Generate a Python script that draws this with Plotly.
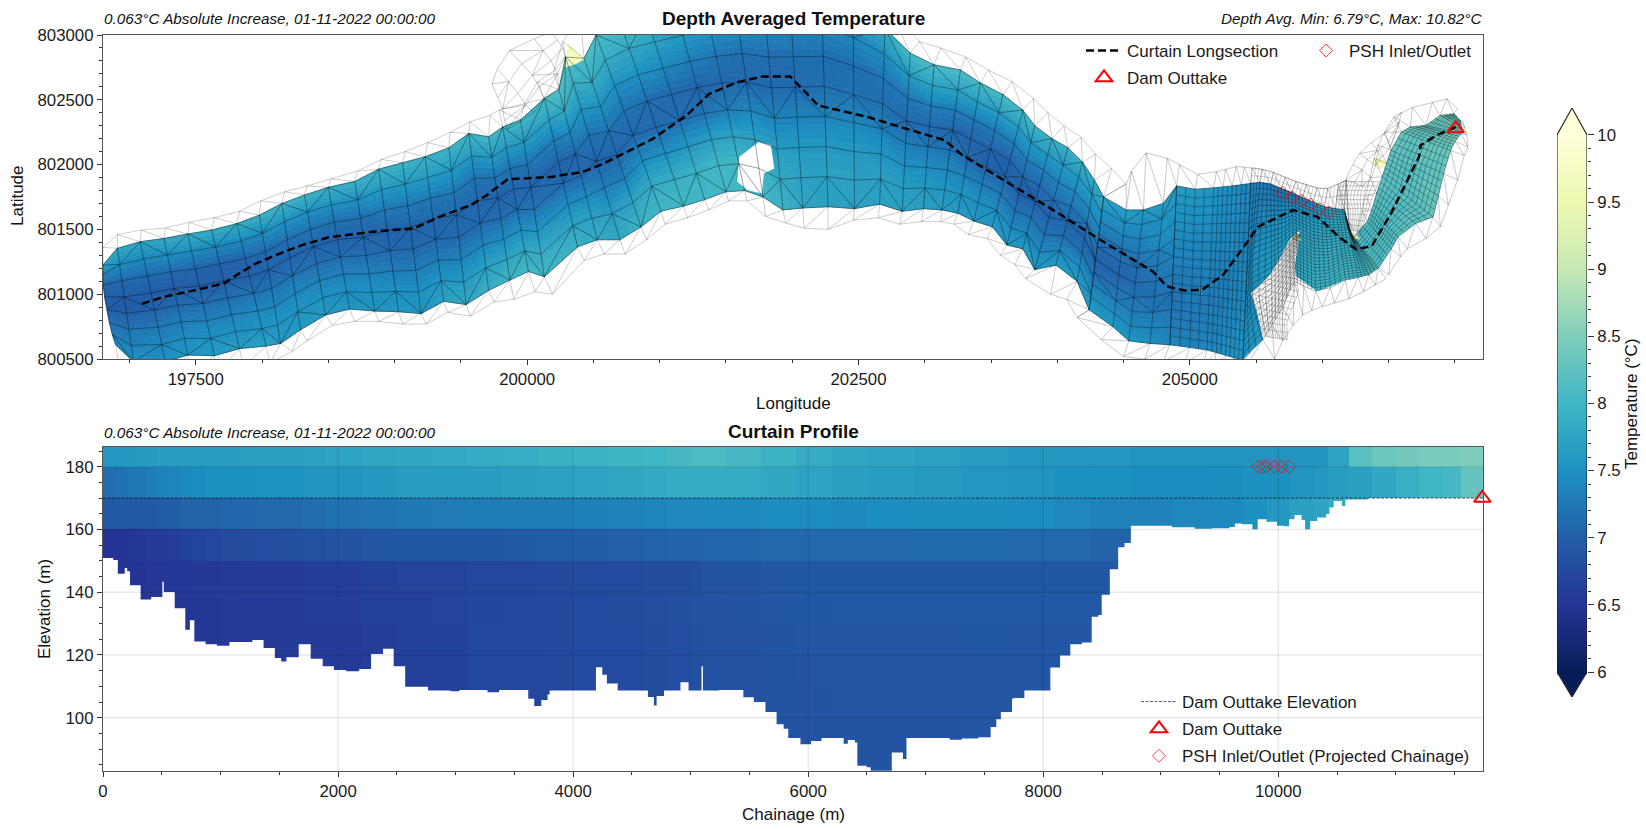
import plotly.graph_objects as go

# ---------- colour scale (YlGnBu reversed), 6-10 degC ----------
COLOR_STOPS = ["#081d58", "#253494", "#225ea8", "#1d91c0", "#41b6c4", "#7fcdbb", "#c7e9b4", "#edf8b1", "#ffffd9"]
T_MIN, T_MAX = 6.0, 10.0

# ---------- plan view mesh: main reach (rows = cross sections, outer / bank ... bank / outer) ----------
main_lon = [
[196800,196800,196800,196802,196812,196830,196848,196870,196895,196920],
[196910,196908,196925,196942,196960,196978,196995,197012,197030,197040],
[197090,197081,197108,197135,197162,197189,197216,197243,197270,197290],
[197270,197260,197286,197311,197337,197363,197389,197414,197440,197470],
[197450,197440,197469,197497,197526,197554,197583,197611,197640,197660],
[197640,197620,197650,197680,197710,197740,197770,197800,197830,197860],
[197830,197810,197841,197873,197904,197936,197967,197999,198030,198060],
[197990,197980,198003,198026,198049,198071,198094,198117,198140,198230],
[198170,198150,198170,198190,198210,198230,198250,198270,198290,198340],
[198340,198320,198343,198366,198389,198411,198434,198457,198480,198530],
[198520,198500,198523,198546,198569,198591,198614,198637,198660,198700],
[198720,198700,198721,198743,198764,198786,198807,198829,198850,198880],
[198900,198880,198901,198923,198944,198966,198987,199009,199030,199060],
[199080,199060,199080,199100,199120,199140,199160,199180,199200,199240],
[199250,199230,199250,199270,199290,199310,199330,199350,199370,199400],
[199420,199410,199429,199447,199466,199484,199503,199521,199540,199570],
[199570,199560,199581,199603,199624,199646,199667,199689,199710,199750],
[199720,199710,199733,199756,199779,199801,199824,199847,199870,199900],
[199790,199815,199843,199871,199899,199926,199954,199982,200010,200060],
[199980,199950,199976,200001,200027,200053,200079,200104,200130,200190],
[200080,200130,200166,200201,200237,200273,200309,200344,200380,200430],
[200200,200240,200281,200323,200364,200406,200447,200489,200530,200580],
[200270,200290,200349,200407,200466,200524,200583,200641,200700,200740],
[200400,200430,200491,200553,200614,200676,200737,200799,200860,200900],
[200470,200520,200590,200660,200730,200800,200870,200940,201010,201040],
[200650,200700,200769,200837,200906,200974,201043,201111,201180,201210],
[200860,200900,200963,201026,201089,201151,201214,201277,201340,201370],
[201090,201120,201174,201229,201283,201337,201391,201446,201500,201520],
[201320,201340,201383,201426,201469,201511,201554,201597,201640,201660],
[201540,201560,201591,201623,201654,201686,201717,201749,201780,201800],
[201770,201780,201801,201823,201844,201866,201887,201909,201930,201950],
[201980,201980,201994,202009,202023,202037,202051,202066,202080,202090],
[202230,202220,202227,202234,202241,202249,202256,202263,202270,202270],
[202480,202460,202461,202463,202464,202466,202467,202469,202470,202460],
[202750,202700,202694,202689,202683,202677,202671,202666,202660,202650],
[202960,202890,202881,202873,202864,202856,202847,202839,202830,202810],
[203120,203070,203059,203047,203036,203024,203013,203001,202990,202975],
[203310,203270,203250,203230,203210,203190,203170,203150,203130,203120],
[203480,203420,203396,203371,203347,203323,203299,203274,203250,203220],
[203660,203590,203559,203527,203496,203464,203433,203401,203370,203330],
[203820,203740,203707,203674,203641,203609,203576,203543,203510,203470],
[203930,203830,203800,203770,203740,203710,203680,203650,203620,203570],
[204050,203960,203929,203897,203866,203834,203803,203771,203740,203680],
[204180,204080,204044,204009,203973,203937,203901,203866,203830,203760],
[204290,204190,204161,204133,204104,204076,204047,204019,203990,203950],
[204410,204280,204261,204243,204224,204206,204187,204169,204150,204070],
[204520,204350,204334,204319,204303,204287,204271,204256,204240,204150],
]
main_lat = [
[801362,801226,801150,801070,800980,800880,800780,800690,800610,800460],
[801460,801354,801229,801104,800979,800854,800730,800605,800480,800350],
[801495,801405,801273,801141,801009,800877,800745,800612,800480,800350],
[801510,801430,801301,801173,801044,800916,800787,800659,800530,800400],
[801555,801465,801331,801196,801062,800928,800794,800659,800525,800400],
[801590,801495,801364,801234,801103,800972,800841,800711,800580,800440],
[801640,801545,801410,801275,801140,801005,800870,800735,800600,800470],
[801720,801610,801469,801327,801186,801044,800903,800761,800620,800560],
[801790,801700,801561,801421,801282,801143,801004,800864,800725,800640],
[801835,801765,801633,801501,801368,801236,801104,800972,800840,800760],
[801890,801825,801691,801556,801422,801288,801154,801019,800885,800790],
[801950,801870,801727,801584,801441,801299,801156,801013,800870,800790],
[802040,801965,801808,801651,801494,801336,801179,801022,800865,800770],
[802100,802015,801849,801682,801516,801349,801183,801016,800850,800770],
[802170,802060,801901,801741,801582,801423,801264,801104,800945,800860],
[802250,802130,801957,801784,801611,801439,801266,801093,800920,800830],
[802330,802240,802067,801894,801721,801549,801376,801203,801030,800940],
[802380,802215,802057,801899,801742,801584,801426,801268,801110,800960],
[802423,802290,802131,801971,801812,801653,801494,801334,801175,801020],
[802470,802345,802172,801999,801826,801654,801481,801308,801135,801000],
[802640,802510,802346,802183,802019,801856,801692,801529,801365,801260],
[802720,802580,802414,802249,802083,801917,801751,801586,801420,801310],
[802950,802830,802629,802427,802226,802024,801823,801621,801420,801310],
[803150,802820,802634,802449,802263,802077,801891,801706,801520,801420],
[803150,803000,802806,802611,802417,802223,802029,801834,801640,801540],
[803250,803100,802897,802694,802491,802289,802086,801883,801680,801590],
[803300,803150,802947,802744,802541,802339,802136,801933,801730,801650],
[803350,803200,802999,802797,802596,802394,802193,801991,801790,801720],
[803400,803250,803043,802836,802629,802421,802214,802007,801800,801720],
[803420,803300,803079,802857,802636,802414,802193,801971,801750,801600],
[803420,803300,803064,802829,802593,802357,802121,801886,801650,801550],
[803420,803300,803066,802833,802599,802366,802132,801899,801665,801510],
[803420,803300,803068,802836,802604,802371,802139,801907,801675,801500],
[803350,803200,802980,802760,802540,802320,802100,801880,801660,801570],
[803180,803050,802856,802663,802469,802276,802082,801889,801695,801590],
[802950,802860,802686,802511,802337,802163,801989,801814,801640,801540],
[802900,802770,802611,802453,802294,802136,801977,801819,801660,801560],
[802830,802730,802576,802421,802267,802113,801959,801804,801650,801560],
[802730,802630,802486,802343,802199,802056,801912,801769,801625,801540],
[802640,802540,802401,802261,802122,801983,801844,801704,801565,801460],
[802510,802420,802291,802163,802034,801906,801777,801649,801520,801430],
[802400,802300,802169,802037,801906,801774,801643,801511,801380,801300],
[802300,802200,802079,801957,801836,801714,801593,801471,801350,801230],
[802210,802130,801996,801861,801727,801593,801459,801324,801190,801120],
[802080,802020,801906,801793,801679,801566,801452,801339,801225,801000],
[801970,801880,801769,801657,801546,801434,801323,801211,801100,800960],
[801850,801750,801626,801501,801377,801253,801129,801004,800880,800820],
]
main_temp = [
[7.75,7.35,7.10,6.95,7.00,7.15,7.30,7.40],
[7.80,7.45,7.10,7.00,7.00,7.20,7.35,7.50],
[7.75,7.40,7.10,7.00,7.05,7.25,7.40,7.50],
[7.80,7.45,7.10,7.00,7.10,7.30,7.45,7.55],
[7.85,7.45,7.05,7.00,7.15,7.35,7.50,7.60],
[7.85,7.40,7.05,7.00,7.15,7.35,7.50,7.65],
[7.85,7.40,7.05,7.02,7.20,7.40,7.55,7.70],
[7.90,7.45,7.10,7.05,7.20,7.40,7.55,7.60],
[7.95,7.50,7.15,7.05,7.20,7.40,7.55,7.60],
[7.95,7.50,7.20,7.05,7.15,7.35,7.50,7.60],
[7.90,7.50,7.15,7.05,7.15,7.35,7.50,7.55],
[7.90,7.50,7.15,7.05,7.15,7.35,7.50,7.55],
[7.95,7.60,7.25,7.05,7.10,7.30,7.50,7.55],
[7.95,7.60,7.25,7.05,7.10,7.30,7.50,7.55],
[7.95,7.60,7.25,7.08,7.10,7.30,7.55,7.70],
[7.95,7.60,7.25,7.08,7.10,7.35,7.60,7.80],
[8.00,7.60,7.20,7.08,7.10,7.40,7.70,7.90],
[8.00,7.60,7.20,7.05,7.15,7.45,7.75,7.95],
[8.00,7.60,7.20,7.05,7.15,7.50,7.80,8.00],
[8.00,7.60,7.20,7.05,7.20,7.55,7.85,8.00],
[8.05,7.70,7.30,7.05,7.10,7.45,7.75,7.90],
[8.15,7.80,7.40,7.10,7.10,7.45,7.70,7.85],
[8.15,7.90,7.55,7.20,7.05,7.30,7.65,7.80],
[8.10,7.85,7.50,7.20,7.05,7.35,7.75,7.95],
[8.10,7.85,7.50,7.20,7.10,7.45,7.85,8.00],
[8.10,7.80,7.50,7.15,7.10,7.50,7.90,8.00],
[8.00,7.70,7.40,7.10,7.15,7.60,7.95,8.00],
[8.00,7.60,7.30,7.05,7.20,7.70,8.00,8.00],
[7.90,7.55,7.20,7.10,7.30,7.75,8.00,8.00],
[7.80,7.50,7.15,7.10,7.40,7.70,7.95,8.00],
[7.75,7.45,7.15,7.10,7.35,7.65,7.80,7.95],
[7.70,7.40,7.15,7.10,7.35,7.60,7.70,7.75],
[7.70,7.40,7.15,7.15,7.35,7.60,7.70,7.70],
[7.70,7.40,7.15,7.20,7.40,7.60,7.70,7.70],
[7.85,7.45,7.20,7.15,7.30,7.55,7.70,7.70],
[8.05,7.60,7.25,7.10,7.30,7.50,7.65,7.70],
[8.10,7.70,7.30,7.10,7.25,7.45,7.60,7.65],
[8.10,7.70,7.30,7.05,7.20,7.40,7.55,7.65],
[8.05,7.65,7.25,7.05,7.10,7.35,7.55,7.60],
[8.05,7.65,7.25,7.05,7.05,7.30,7.50,7.60],
[8.00,7.65,7.30,7.05,7.05,7.25,7.45,7.60],
[7.95,7.60,7.30,7.10,7.00,7.20,7.40,7.60],
[7.90,7.60,7.30,7.10,7.00,7.20,7.40,7.60],
[7.90,7.60,7.35,7.15,7.05,7.20,7.40,7.60],
[7.85,7.60,7.40,7.20,7.05,7.15,7.40,7.60],
[7.80,7.60,7.40,7.20,7.05,7.15,7.45,7.60],
[7.75,7.55,7.40,7.20,7.05,7.20,7.45,7.60],
]

# ---------- plan view mesh: delta reach ----------
delta_lon = [
[204520,204350,204338,204326,204313,204301,204289,204277,204265,204252,204240,204150],
[204560,204520,204509,204498,204487,204476,204464,204453,204442,204431,204420,204330],
[204670,204650,204638,204626,204613,204601,204589,204577,204565,204552,204540,204500],
[204830,204800,204789,204778,204767,204756,204744,204733,204722,204711,204700,204660],
[204920,204900,204894,204889,204883,204878,204872,204867,204861,204856,204850,204800],
[205060,205040,205036,205031,205027,205022,205018,205013,205009,205004,205000,204960],
[205200,205180,205174,205169,205163,205158,205152,205147,205141,205136,205130,205100],
[205270,205250,205244,205239,205233,205228,205222,205217,205211,205206,205200,205180],
[205350,205320,205314,205309,205303,205298,205292,205287,205281,205276,205270,205260],
[205410,205390,205384,205378,205372,205366,205359,205353,205347,205341,205335,205330],
[205470,205460,205453,205447,205440,205433,205427,205420,205413,205407,205400,205400],
[205545,205530,205520,205505,205490,205475,205470,205470,205480,205510,205550,205640],
[205630,205610,205611,205612,205613,205614,205616,205617,205618,205619,205620,205700],
[205720,205690,205691,205692,205693,205694,205696,205697,205698,205699,205700,205780],
[205800,205770,205772,205774,205776,205779,205781,205783,205786,205788,205790,205850],
[205880,205850,205851,205852,205853,205854,205856,205857,205858,205859,205860,205920],
[205960,205930,205932,205934,205937,205939,205941,205943,205946,205948,205950,206000],
[206040,206016,206021,206026,206031,206036,206040,206045,206050,206055,206060,206090],
[206120,206100,206108,206117,206125,206133,206142,206150,206158,206167,206175,206200],
[206180,206165,206177,206188,206200,206212,206223,206235,206247,206258,206270,206310],
[206200,206200,206217,206233,206250,206267,206283,206300,206317,206333,206350,206400],
[206235,206230,206251,206272,206293,206314,206336,206357,206378,206399,206420,206480],
]
delta_lat = [
[801850,801750,801653,801557,801460,801363,801267,801170,801073,800977,800880,800820],
[801950,801650,801550,801450,801350,801250,801150,801050,800950,800850,800750,800650],
[802090,801650,801538,801426,801313,801201,801089,800977,800865,800752,800640,800520],
[802050,801700,801580,801460,801340,801220,801100,800980,800860,800740,800620,800500],
[802000,801835,801699,801563,801427,801291,801154,801018,800882,800746,800610,800480],
[801925,801810,801674,801539,801403,801268,801132,800997,800861,800726,800590,800470],
[801945,801820,801681,801542,801403,801264,801126,800987,800848,800709,800570,800450],
[801965,801827,801685,801543,801401,801259,801118,800976,800834,800692,800550,800440],
[801985,801835,801690,801545,801400,801255,801110,800965,800820,800675,800530,800430],
[801980,801845,801697,801549,801400,801252,801104,800955,800807,800658,800510,800420],
[801975,801855,801703,801552,801400,801248,801097,800945,800793,800642,800490,800400],
[801965,801862,801730,801590,801450,801310,801170,801040,800910,800780,800650,800500],
[801940,801850,801729,801608,801487,801366,801245,801124,801003,800882,800760,800640],
[801900,801815,801713,801612,801510,801408,801307,801205,801103,801002,800900,800760],
[801870,801785,801709,801633,801557,801481,801404,801328,801252,801176,801100,800840],
[801845,801745,801669,801593,801517,801441,801364,801288,801212,801136,801060,800875],
[801820,801710,801634,801558,801482,801406,801329,801253,801177,801101,801025,800905],
[801815,801674,801605,801535,801466,801397,801327,801258,801189,801119,801050,800930],
[801850,801660,801599,801538,801477,801416,801354,801293,801232,801171,801110,800965],
[801880,801650,801592,801534,801477,801419,801361,801303,801246,801188,801130,801020],
[801560,801500,801461,801422,801383,801344,801306,801267,801228,801189,801150,801070],
[801500,801444,801417,801390,801363,801336,801308,801281,801254,801227,801200,801120],
]
delta_temp = [
[7.70,7.50,7.35,7.20,7.10,7.05,7.10,7.30,7.45,7.60],
[7.65,7.50,7.35,7.20,7.10,7.05,7.15,7.30,7.45,7.55],
[7.60,7.45,7.35,7.25,7.15,7.10,7.20,7.30,7.40,7.55],
[7.60,7.50,7.45,7.35,7.25,7.20,7.15,7.25,7.35,7.45],
[7.65,7.55,7.50,7.40,7.35,7.25,7.20,7.20,7.30,7.40],
[7.60,7.50,7.45,7.40,7.35,7.30,7.25,7.25,7.30,7.35],
[7.55,7.50,7.45,7.40,7.35,7.30,7.25,7.30,7.35,7.40],
[7.50,7.45,7.40,7.40,7.35,7.30,7.30,7.30,7.35,7.40],
[7.45,7.45,7.40,7.40,7.35,7.30,7.30,7.35,7.40,7.45],
[7.40,7.40,7.38,7.35,7.35,7.35,7.35,7.40,7.45,7.50],
[7.35,7.35,7.35,7.35,7.35,7.40,7.40,7.45,7.50,7.50],
[7.30,7.30,7.35,7.40,7.45,7.50,7.50,7.50,7.55,7.55],
[7.25,7.30,7.40,7.50,7.55,7.60,7.60,7.60,7.60,7.60],
[7.25,7.35,7.45,7.55,7.60,7.65,7.65,7.70,7.70,7.70],
[7.30,7.40,7.50,7.60,7.65,7.70,7.70,7.75,7.80,7.80],
[7.35,7.45,7.60,7.65,7.70,7.75,7.75,7.80,7.85,7.85],
[7.45,7.55,7.65,7.70,7.75,7.80,7.85,7.85,7.90,7.90],
[7.60,7.65,7.70,7.75,7.80,7.85,7.90,7.90,7.95,7.95],
[7.70,7.75,7.80,7.80,7.85,7.90,7.90,7.95,8.00,8.00],
[7.80,7.80,7.85,7.90,7.90,7.95,7.95,8.00,8.00,8.05],
[7.90,7.90,7.95,7.95,8.00,8.00,8.00,8.05,8.05,8.10],
[7.95,7.95,8.00,8.00,8.00,8.05,8.05,8.10,8.10,8.10],
]

# ---------- plan view mesh: north-east arm ----------
arm_lon = [
[206260,206240,206271,206302,206333,206363,206394,206425,206500],
[206300,206340,206370,206400,206430,206460,206490,206520,206590],
[206330,206373,206406,206439,206472,206505,206538,206571,206640],
[206360,206410,206459,206508,206557,206605,206654,206703,206780],
[206390,206452,206516,206580,206644,206707,206771,206835,206890],
[206420,206485,206550,206615,206680,206745,206810,206875,206950],
[206470,206518,206584,206650,206716,206782,206848,206914,207020],
[206540,206597,206659,206720,206782,206844,206905,206967,207070],
[206680,206663,206719,206775,206832,206888,206944,207000,207098],
[206830,206782,206826,206870,206914,206958,207002,207046,207090],
[206940,206888,206915,206942,206969,206996,207023,207050,207075],
[207020,206993,207001,207009,207017,207024,207032,207040,207060],
]
arm_lat = [
[801480,801440,801401,801362,801323,801283,801244,801205,801150],
[801640,801560,801525,801490,801455,801420,801385,801350,801290],
[801760,801649,801615,801581,801547,801512,801478,801444,801350],
[801900,801780,801741,801702,801663,801624,801585,801546,801430],
[802050,801905,801854,801802,801751,801700,801648,801597,801520],
[802150,802010,801968,801927,801885,801843,801802,801760,801690],
[802250,802110,802080,802050,802020,801991,801961,801931,801880],
[802370,802251,802227,802204,802180,802157,802133,802110,802070],
[802440,802290,802272,802254,802235,802217,802198,802180,802136],
[802480,802303,802292,802281,802270,802260,802249,802238,802230],
[802508,802379,802364,802349,802335,802320,802305,802290,802290],
[802431,802392,802383,802375,802366,802357,802349,802340,802330],
]
arm_temp = [
[8.05,8.05,8.05,8.10,8.10,8.10,8.10],
[8.10,8.10,8.05,8.10,8.10,8.10,8.15],
[8.15,8.10,8.10,8.10,8.15,8.15,8.15],
[8.20,8.15,8.10,8.15,8.15,8.20,8.20],
[8.20,8.20,8.15,8.20,8.20,8.25,8.30],
[8.25,8.20,8.20,8.20,8.25,8.30,8.30],
[8.25,8.25,8.20,8.25,8.25,8.30,8.30],
[8.30,8.25,8.25,8.30,8.30,8.30,8.35],
[8.35,8.30,8.30,8.30,8.30,8.35,8.40],
[8.35,8.35,8.35,8.30,8.30,8.35,8.40],
[8.40,8.35,8.35,8.35,8.35,8.40,8.40],
[8.40,8.40,8.40,8.40,8.40,8.40,8.40],
]

# ---------- dry mesh patches ----------
lobe_lon = [
[199735,199780,199815,199830,199850],
[199775,199860,199930,199990,200050],
[199867,199960,200040,200090,200125],
[200053,200120,200180,200230,200240],
[200180,200230,200270,200285,200290],
]
lobe_lat = [
[802623,802520,802430,802340,802270],
[802738,802640,802550,802460,802400],
[802880,802780,802690,802600,802510],
[802970,802880,802800,802700,802590],
[803020,802960,802900,802840,802780],
]
island_lon = [
[205560,205590,205620,205650,205680,205710,205740],
[205520,205555,205590,205625,205660,205695,205730],
[205500,205540,205580,205620,205660,205700,205750],
[205470,205520,205570,205620,205670,205720,205790],
[205540,205580,205620,205660,205700,205750,205820],
[205600,205640,205670,205700,205730,205765,205800],
[205650,205675,205700,205725,205750,205775,205795],
[205700,205715,205730,205745,205760,205775,205790],
[205745,205755,205765,205775,205785,205795,205805],
[205800,205805,205810,205815,205820,205825,205830],
]
island_lat = [
[800680,800670,800665,800660,800655,800650,800650],
[800790,800785,800780,800775,800770,800765,800760],
[800900,800890,800880,800870,800860,800850,800840],
[801000,800990,800980,800970,800960,800950,800930],
[801090,801080,801070,801060,801050,801040,801020],
[801150,801145,801140,801135,801130,801125,801120],
[801230,801225,801220,801215,801210,801205,801200],
[801310,801305,801300,801295,801290,801285,801280],
[801390,801385,801380,801375,801370,801365,801360],
[801470,801468,801466,801464,801462,801460,801458],
]
nlobe_lon = [
[206190,206210,206230,206250,206270,206290],
[206170,206200,206230,206260,206290,206320],
[206150,206190,206230,206270,206310,206350],
[206110,206160,206210,206260,206310,206370],
[206120,206170,206220,206270,206320,206400],
[206150,206200,206250,206300,206350,206430],
]
nlobe_lat = [
[801500,801498,801495,801490,801485,801480],
[801580,801578,801575,801572,801570,801565],
[801660,801660,801660,801660,801660,801660],
[801730,801730,801730,801730,801730,801730],
[801800,801800,801800,801800,801800,801800],
[801870,801870,801870,801870,801870,801870],
]
nw_band_lon = [
[206175,206240,206300],
[206230,206300,206370],
[206280,206340,206400],
[206370,206420,206440],
[206465,206500,206510],
[206597,206580,206570],
]
nw_band_lat = [
[801880,801860,801830],
[802000,801960,801900],
[802085,802040,801990],
[802170,802110,802050],
[802238,802180,802130],
[802405,802330,802280],
]

# dry outlines in the wet field
hole_lon = [201600,201746,201839,201865,201786,201772,201666,201586,201600]
hole_lat = [802059,802174,802149,801969,801931,801777,801803,801867,802059]
island_edge_lon = [205832,205752,205673,205594,205462,205502,205554,205470,205396,206000,206500,206175,205964,205805,205792,205815,205832]
island_edge_lat = [801495,801418,801264,801136,801008,800879,800649,800570,800490,800490,800900,801110,801020,801136,801213,801380,801495]

# isolated warm cells: lon, lat, temperature
warm_cells = [
([200286,200313,200432,200366],[802751,802931,802815,802777],9.7),
([206373,206418,206479,206466,206426],[802024,802056,802018,801980,801968],9.6),
([205779,205805,205840,205790],[801444,801470,801418,801418],9.3),
([206210,206250,206285,206235],[801465,801465,801430,801420],9.2),
]

# ---------- curtain line, structures ----------
curtain_lon = [197094,197260,197505,197718,197790,197956,198169,198302,198500,198832,199150,199337,199575,199695,199854,200180,200419,200578,200950,201202,201374,201587,201772,201985,202197,202569,203152,203285,203577,203949,204327,204723,204828,204960,205092,205251,205409,205515,205779,205964,206122,206254,206373,206518,206729,206742,206861,207006]
curtain_lat = [800926,800980,801033,801085,801136,801238,801328,801379,801438,801482,801508,801597,801687,801764,801887,801905,801943,802008,802200,802379,802546,802636,802679,802679,802456,802367,802187,802072,801892,801662,801418,801174,801059,801028,801033,801149,801367,801521,801649,801597,801444,801346,801372,801623,802059,802149,802226,802290]
dam_lon = [207006]
dam_lat = [802277]
psh_lon = [205700,205774,205842,205911,205980,206048]
psh_lat = [801782,801746,801723,801692,801659,801631]

# ---------- curtain profile ----------
chain_edges = [0,60,120,200,280,370,460,560,660,760,880,1000,1150,1300,1500,1700,1900,2200,2500,2800,3100,3400,3700,4000,4300,4600,4800,5000,5100,5300,5600,5900,6200,6500,6900,7300,7700,8100,8400,8750,9100,9400,9700,9900,10100,10300,10420,10600,10800,11000,11200,11400,11550,11741]
layer_edges = [80,90,100,110,120,130,140,150,160,170,180,186.3]
deep_left = [6.55]*10+[6.55,6.56,6.58,6.58,6.60,6.60,6.60,6.62,6.65,6.65]
curtain_temp = [
deep_left+[6.72,6.72,6.74,6.76,6.76,6.78,6.80,6.82,6.84,6.85, 6.88,6.88,6.88,6.88,6.88,6.90,6.90,6.90,6.90,6.90]+[6.90]*13,
deep_left+[6.72,6.72,6.74,6.76,6.76,6.78,6.80,6.82,6.84,6.85, 6.88,6.88,6.88,6.88,6.88,6.90,6.90,6.90,6.90,6.90]+[6.90]*13,
deep_left+[6.72,6.72,6.74,6.76,6.76,6.78,6.80,6.82,6.84,6.85, 6.88,6.88,6.89,6.89,6.89,6.90,6.90,6.90,6.90,6.90]+[6.90]*13,
deep_left+[6.72,6.72,6.74,6.76,6.76,6.78,6.80,6.82,6.84,6.85, 6.88,6.89,6.90,6.90,6.90,6.90,6.90,6.90,6.90,6.90]+[6.90]*13,
deep_left+[6.72,6.72,6.74,6.76,6.76,6.78,6.80,6.82,6.84,6.85, 6.88,6.90,6.90,6.90,6.90,6.92,6.90,6.90,6.90,6.90]+[6.90]*13,
[6.50]*5+[6.52,6.52,6.54,6.54,6.55, 6.55,6.56,6.58,6.58,6.60,6.62,6.62,6.65,6.66,6.68, 6.70,6.72,6.74,6.76,6.78,6.80,6.82,6.84,6.86,6.88, 6.90,6.92,6.93,6.93,6.93,6.93,6.93,6.93,6.93,6.93]+[6.93]*13,
[6.50]*5+[6.52,6.52,6.54,6.54,6.55, 6.55,6.56,6.58,6.58,6.60,6.62,6.62,6.65,6.68,6.68, 6.72,6.72,6.74,6.76,6.76,6.78,6.78,6.80,6.88,6.88, 6.90,6.92,6.92,6.92,6.92,6.92,6.92,6.92,6.92,6.92]+[6.92]*13,
[6.50,6.50,6.50,6.52,6.55,6.58,6.60,6.62,6.65,6.68, 6.72,6.75,6.78,6.80,6.82,6.85,6.87,6.90,6.92,6.92, 6.92,6.95,6.97,7.00,7.02,7.04,7.06,7.06,7.08,7.08, 7.10,7.10,7.10,7.10,7.12,7.12,7.10,7.10,7.05,7.05]+[7.05]*13,
[6.95,6.95,6.95,6.95,6.95,6.95,6.98,7.00,7.05,7.05, 7.05,7.08,7.08,7.10,7.10,7.15,7.20,7.22,7.25,7.27, 7.28,7.29,7.30,7.32,7.35,7.38,7.40,7.40,7.42,7.42, 7.45,7.45,7.42,7.45,7.48,7.48,7.45,7.40,7.35,7.35, 7.40,7.42,7.50,7.60,7.70,7.75,7.85,7.90,7.95,8.00, 8.10,8.20,8.30],
[7.15,7.15,7.20,7.25,7.25,7.30,7.35,7.38,7.42,7.45, 7.50,7.50,7.50,7.52,7.52,7.55,7.55,7.60,7.65,7.65, 7.65,7.70,7.72,7.75,7.78,7.82,7.85,7.85,7.85,7.85, 7.80,7.75,7.70,7.65,7.62,7.58,7.55,7.50,7.50,7.45, 7.45,7.48,7.50,7.50,7.55,7.60,7.65,7.70,7.80,7.90, 8.00,8.05,8.30],
[7.60,7.60,7.60,7.60,7.62,7.62,7.65,7.65,7.65,7.65, 7.65,7.65,7.67,7.70,7.70,7.72,7.75,7.78,7.80,7.82, 7.85,7.88,7.92,7.95,7.98,8.00,8.05,8.10,8.10,8.05, 7.95,7.85,7.80,7.75,7.72,7.65,7.60,7.60,7.58,7.55, 7.55,7.55,7.55,7.55,7.55,7.55,7.75,8.20,8.35,8.40, 8.45,8.45,8.50],
]
bed_chain = [0,87,126,185,206,230,320,410,505,517,610,700,739,777,873,969,1076,1271,1366,1462,1516,1561,1665,1767,1869,1964,2069,2180,2281,2383,2473,2571,2766,2957,3032,3271,3370,3618,3669,3729,3782,3800,4194,4248,4287,4379,4636,4687,4710,4773,4913,4982,5092,5104,5242,5448,5537,5636,5731,5791,5830,5934,6024,6113,6301,6337,6397,6418,6496,6531,6711,6806,6836,7203,7307,7448,7552,7600,7639,7734,7746,7839,8060,8143,8230,8328,8412,8467,8497,8566,8637,8691,8745,9094,9287,9436,9585,9630,9690,9779,9824,9899,9988,10048,10092,10137,10197,10227,10271,10331,10406,10435,10471,10540,10570,10763,11741]
bed_elev = [150.9,150.3,145.9,147.7,146.7,142.2,137.7,138.5,143.3,140.1,134.9,128.0,131.1,124.3,123.4,122.9,124.1,124.8,122.2,119.0,117.9,119.3,123.4,118.8,116.4,115.2,114.8,115.5,120.3,122.0,116.4,109.9,108.7,108.4,108.8,108.1,108.8,106.0,103.7,105.6,107.4,108.7,116.1,113.7,110.9,108.7,106.6,103.9,106.9,108.7,111.3,108.7,116.4,108.7,108.8,106.5,105.0,101.8,97.9,96.5,93.5,91.5,92.6,93.5,91.7,92.9,92.1,84.7,84.2,83.1,88.9,86.8,93.5,93.0,93.4,93.8,97.0,99.5,101.8,106.0,106.3,108.7,116.0,119.8,123.4,124.0,132.2,132.7,139.2,147.3,154.3,155.7,161.2,160.7,160.2,160.4,160.8,161.9,161.7,160.1,163.3,162.5,161.2,161.0,163.3,164.6,163.0,160.1,162.7,163.8,164.9,167.0,169.1,167.5,169.6,170.0,170.0]
dam_elev = 170
dam_chain = [11735]
dam_elev_pt = [170]
psh_chain = [9831,9867,9897,9966,10025,10090]
psh_elev = [180,180,180,180,180,180]

# ---------- ticks ----------
lon_ticks = [197500,200000,202500,205000]
lat_ticks = [800500,801000,801500,802000,802500,803000]
chain_ticks = [0,2000,4000,6000,8000,10000]
elev_ticks = [100,120,140,160,180]
cbar_ticks = [6,6.5,7,7.5,8,8.5,9,9.5,10]
cbar_labels = ["6","6.5","7","7.5","8","8.5","9","9.5","10"]
cbar_minor = [6.1,6.2,6.3,6.4,6.6,6.7,6.8,6.9,7.1,7.2,7.3,7.4,7.6,7.7,7.8,7.9,8.1,8.2,8.3,8.4,8.6,8.7,8.8,8.9,9.1,9.2,9.3,9.4,9.6,9.7,9.8,9.9]

# ---------- layout constants ----------
W, H = 1646, 829
AX_L, AX_R = 103, 1483
TOP_T, TOP_B = 35, 359
BOT_T, BOT_B = 447, 771
FONT = "Liberation Sans, Arial, sans-serif"
TXT = "#1a1a1a"
LON_RANGE = [196800, 207212]
LAT_RANGE = [800500, 803000]
CH_RANGE = [0, 11741]
EL_RANGE = [83, 186.3]

def rgb_of(hexs):
    return tuple(int(hexs[i:i+2], 16) for i in (1, 3, 5))

def color_of(t):
    f = (min(max(t, T_MIN), T_MAX) - T_MIN) / (T_MAX - T_MIN) * (len(COLOR_STOPS) - 1)
    i = min(int(f), len(COLOR_STOPS) - 2)
    a, b = rgb_of(COLOR_STOPS[i]), rgb_of(COLOR_STOPS[i + 1])
    c = [round(a[k] + (b[k] - a[k]) * (f - i)) for k in range(3)]
    return f"rgb({c[0]},{c[1]},{c[2]})"

CSCALE = [[i / (len(COLOR_STOPS) - 1), c] for i, c in enumerate(COLOR_STOPS)]
fig = go.Figure()

def blend(tab, i, j, u, v):
    """Position or colour inside cell (i, j), as a Gouraud-shaded mesh renders it."""
    return ((1 - u) * (1 - v) * tab[i][j] + (1 - u) * v * tab[i][j + 1]
            + u * (1 - v) * tab[i + 1][j] + u * v * tab[i + 1][j + 1])

# wet cell fill, shaded across each cell and grouped by colour bin
bins = {}
def add_cells(lon, lat, temp, sub=4):
    lo = [r[1:-1] for r in lon]
    la = [r[1:-1] for r in lat]
    for i in range(len(lo) - 1):
        for j in range(len(lo[0]) - 1):
            for a in range(sub):
                for b in range(sub):
                    u0, u1, v0, v1 = a / sub, (a + 1) / sub, b / sub, (b + 1) / sub
                    t = blend(temp, i, j, (u0 + u1) / 2, (v0 + v1) / 2)
                    key = round(t / 0.025) * 0.025
                    xs, ys = bins.setdefault(key, ([], []))
                    for tab, out in ((lo, xs), (la, ys)):
                        out += [round(blend(tab, i, j, u, v)) for u, v in ((u0, v0), (u0, v1), (u1, v1), (u1, v0), (u0, v0))]
                        out.append(None)

add_cells(main_lon, main_lat, main_temp)
add_cells(delta_lon, delta_lat, delta_temp)
add_cells(arm_lon, arm_lat, arm_temp)
for key, (xs, ys) in sorted(bins.items()):
    c = color_of(key)
    fig.add_trace(go.Scatter(x=xs, y=ys, mode="lines", fill="toself", fillcolor=c,
                             line=dict(color=c, width=0.7), hoverinfo="skip", showlegend=False))

# dry holes painted over the field
for hx, hy in [(hole_lon, hole_lat), (island_edge_lon, island_edge_lat)]:
    fig.add_trace(go.Scatter(x=hx, y=hy, mode="lines", fill="toself", fillcolor="white",
                             line=dict(color="white", width=0), hoverinfo="skip", showlegend=False))
for cx, cy, ct in warm_cells:
    fig.add_trace(go.Scatter(x=cx + cx[:1], y=cy + cy[:1], mode="lines", fill="toself", fillcolor=color_of(ct),
                             line=dict(color=color_of(ct), width=0.5), hoverinfo="skip", showlegend=False))

# mesh lines
def grid_lines(lon, lat, ns=1, nc=1, diag_every=0):
    """Cell edges of a table, with each cell split into ns x nc smaller mesh cells."""
    nr, ncol = len(lon), len(lon[0])
    rows = []
    for i in range(nr - 1):
        for a in range(ns):
            rows.append((i, a / ns))
    rows.append((nr - 2, 1.0))
    cols = []
    for j in range(ncol - 1):
        for b in range(nc):
            cols.append((j, b / nc))
    cols.append((ncol - 2, 1.0))
    px = [[blend(lon, i, j, u, v) for (j, v) in cols] for (i, u) in rows]
    py = [[blend(lat, i, j, u, v) for (j, v) in cols] for (i, u) in rows]
    xs, ys = [], []
    for r in range(len(px)):
        xs += px[r] + [None]
        ys += py[r] + [None]
    for c in range(len(cols)):
        xs += [px[r][c] for r in range(len(px))] + [None]
        ys += [py[r][c] for r in range(len(px))] + [None]
    if diag_every:
        for r in range(len(px) - 1):
            for c in range(len(cols) - 1):
                if (r * 3 + c * 2) % diag_every == 0:
                    a, b = (c, c + 1) if (r + c) % 2 == 0 else (c + 1, c)
                    xs += [px[r][a], px[r + 1][b], None]
                    ys += [py[r][a], py[r + 1][b], None]
    return xs, ys

def band_lines(lon, lat):
    """Outer ring of dry, mostly triangular cells."""
    xs, ys = [], []
    nr, nc = len(lon), len(lon[0])
    for i in range(nr):
        xs += [lon[i][0], lon[i][1], None, lon[i][nc - 2], lon[i][nc - 1], None]
        ys += [lat[i][0], lat[i][1], None, lat[i][nc - 2], lat[i][nc - 1], None]
    xs += [lon[i][0] for i in range(nr)] + [None] + [lon[i][nc - 1] for i in range(nr)] + [None]
    ys += [lat[i][0] for i in range(nr)] + [None] + [lat[i][nc - 1] for i in range(nr)] + [None]
    for i in range(nr - 1):
        xs += [lon[i][0], lon[i + 1][1], None, lon[i][nc - 1], lon[i + 1][nc - 2], None]
        ys += [lat[i][0], lat[i + 1][1], None, lat[i][nc - 1], lat[i + 1][nc - 2], None]
    return xs, ys

def inner(tab):
    return [r[1:-1] for r in tab]

mesh_sets = [
    (band_lines(main_lon, main_lat), "rgba(0,0,0,0.36)", 0.55),
    (band_lines(delta_lon, delta_lat), "rgba(0,0,0,0.40)", 0.55),
    (band_lines(arm_lon, arm_lat), "rgba(0,0,0,0.40)", 0.55),
    (grid_lines(inner(main_lon), inner(main_lat), 1, 1, 3), "rgba(0,0,0,0.62)", 0.6),
    (grid_lines(inner(delta_lon)[:5], inner(delta_lat)[:5], 1, 1, 3), "rgba(0,0,0,0.62)", 0.55),
    (grid_lines(inner(delta_lon)[4:11], inner(delta_lat)[4:11], 2, 2), "rgba(0,0,0,0.60)", 0.5),
    (grid_lines(inner(delta_lon)[10:], inner(delta_lat)[10:], 3, 3), "rgba(0,0,0,0.60)", 0.5),
    (grid_lines(inner(arm_lon), inner(arm_lat), 3, 2), "rgba(0,0,0,0.60)", 0.5),
    (grid_lines(lobe_lon, lobe_lat, 1, 1, 2), "rgba(0,0,0,0.42)", 0.5),
    (grid_lines(island_lon, island_lat, 2, 2), "rgba(0,0,0,0.50)", 0.4),
    (grid_lines(nlobe_lon, nlobe_lat, 2, 2), "rgba(0,0,0,0.50)", 0.4),
    (grid_lines(nw_band_lon, nw_band_lat, 1, 1, 2), "rgba(0,0,0,0.42)", 0.5),
    (grid_lines([r[:2] for r in delta_lon[10:20]], [r[:2] for r in delta_lat[10:20]], 3, 2), "rgba(0,0,0,0.45)", 0.4),
]
for (mx, my), col, wid in mesh_sets:
    fig.add_trace(go.Scatter(x=mx, y=my, mode="lines", line=dict(color=col, width=wid),
                             hoverinfo="skip", showlegend=False))

# plan view overlays
fig.add_trace(go.Scatter(x=curtain_lon, y=curtain_lat, mode="lines", name="Curtain Longsection",
                         line=dict(color="black", width=2.5, dash="8px,4px"), legend="legend", legendgroup="a"))
fig.add_trace(go.Scatter(x=dam_lon, y=dam_lat, mode="markers", name="Dam Outtake", legend="legend", legendgroup="b",
                         marker=dict(symbol="triangle-up-open", size=14.5, color="red", line=dict(color="red", width=2))))
fig.add_trace(go.Scatter(x=psh_lon, y=psh_lat, mode="markers", name="PSH Inlet/Outlet", legend="legend2",
                         marker=dict(symbol="diamond-open", size=10, color="rgba(255,0,0,0.75)",
                                     line=dict(color="rgba(255,0,0,0.75)", width=1))))

# curtain profile
fig.add_trace(go.Heatmap(x=chain_edges, y=layer_edges, z=curtain_temp, colorscale=CSCALE, zmin=T_MIN, zmax=T_MAX,
                         showscale=False, hoverinfo="skip", xaxis="x2", yaxis="y2"))
fig.add_trace(go.Scatter(x=bed_chain, y=bed_elev, mode="lines", line=dict(color="white", width=0, shape="hv"),
                         fill="tozeroy", fillcolor="white", hoverinfo="skip", showlegend=False, xaxis="x2", yaxis="y2"))
# grid lines sit above the section, as in the reference
gx, gy = [], []
for v in chain_ticks[1:]:
    gx += [v, v, None]
    gy += EL_RANGE + [None]
for v in elev_ticks:
    gx += CH_RANGE + [None]
    gy += [v, v, None]
fig.add_trace(go.Scatter(x=gx, y=gy, mode="lines", line=dict(color="rgba(0,0,0,0.09)", width=1.4),
                         hoverinfo="skip", showlegend=False, xaxis="x2", yaxis="y2"))
fig.add_trace(go.Scatter(x=CH_RANGE, y=[dam_elev, dam_elev], mode="lines", name="Dam Outtake Elevation",
                         line=dict(color="rgba(0,0,0,0.62)", width=1, dash="3px,1.5px"), xaxis="x2", yaxis="y2",
                         legend="legend3", legendgroup="c"))
fig.add_trace(go.Scatter(x=dam_chain, y=dam_elev_pt, mode="markers", name="Dam Outtake", cliponaxis=False,
                         marker=dict(symbol="triangle-up-open", size=14.5, color="red", line=dict(color="red", width=2)),
                         xaxis="x2", yaxis="y2", legend="legend3", legendgroup="d"))
fig.add_trace(go.Scatter(x=psh_chain, y=psh_elev, mode="markers", name="PSH Inlet/Outlet (Projected Chainage)",
                         marker=dict(symbol="diamond-open", size=10, color="rgba(255,0,0,0.72)",
                                     line=dict(color="rgba(255,0,0,0.72)", width=1)),
                         xaxis="x2", yaxis="y2", legend="legend3", legendgroup="e"))

# colour bar as its own small axes
cbar_levels = [6 + k * 0.025 for k in range(161)]
fig.add_trace(go.Heatmap(x=[0, 1], y=cbar_levels, z=[[v, v] for v in cbar_levels], colorscale=CSCALE,
                         zmin=T_MIN, zmax=T_MAX, showscale=False, hoverinfo="skip", xaxis="x3", yaxis="y3"))
CB_BOT, CB_TOP = 5.814, 10.2
fig.add_trace(go.Scatter(x=[0, 0.5, 1, 0], y=[10, CB_TOP, 10, 10], mode="lines", fill="toself",
                         fillcolor=COLOR_STOPS[-1], line=dict(width=0), hoverinfo="skip", showlegend=False,
                         xaxis="x3", yaxis="y3"))
fig.add_trace(go.Scatter(x=[0, 0.5, 1, 0], y=[6, CB_BOT, 6, 6], mode="lines", fill="toself",
                         fillcolor=COLOR_STOPS[0], line=dict(width=0), hoverinfo="skip", showlegend=False,
                         xaxis="x3", yaxis="y3"))
fig.add_trace(go.Scatter(x=[0, 0, 0.5, 1, 1, 0.5, 0], y=[6, 10, CB_TOP, 10, 6, CB_BOT, 6], mode="lines",
                         line=dict(color="#222", width=1.1), hoverinfo="skip", showlegend=False,
                         cliponaxis=False, xaxis="x3", yaxis="y3"))

TICK_SIZE = 16.8
LABEL_SIZE = 17
axis_common = dict(showgrid=False, zeroline=False, showline=True, linecolor="#555", linewidth=1.3, mirror=True,
                   ticks="outside", ticklen=5, tickwidth=1, tickcolor="#333", tickmode="array", automargin=False,
                   tickfont=dict(family=FONT, size=TICK_SIZE, color=TXT), layer="above traces")
minor_common = dict(ticks="outside", ticklen=3, tickwidth=0.9, tickcolor="#333", showgrid=False)

def xdom():
    return [AX_L / W, AX_R / W]

def ydom(top, bot):
    return [1 - bot / H, 1 - top / H]

annots = []
def note(text, x, y, size=14, anchor="center", italic=False, bold=False, rot=0):
    t = text
    if italic:
        t = f"<i>{t}</i>"
    if bold:
        t = f"<b>{t}</b>"
    annots.append(dict(text=t, x=x / W, y=1 - y / H, xref="paper", yref="paper", showarrow=False, xanchor=anchor,
                       yanchor="middle", textangle=rot, font=dict(family=FONT, size=size, color="#111"), borderpad=0))

SUB = "0.063°C Absolute Increase, 01-11-2022 00:00:00"
MID = (AX_L + AX_R) / 2
note(SUB, AX_L, 19, 15.3, "left", italic=True)
note("Depth Averaged Temperature", MID, 18.5, 19, bold=True)
note("Depth Avg. Min: 6.79°C, Max: 10.82°C", AX_R, 19, 15.3, "right", italic=True)
note("Longitude", MID, 403, LABEL_SIZE)
note("Latitude", 18, 196, LABEL_SIZE, rot=-90)
note(SUB, AX_L, 432, 15.3, "left", italic=True)
note("Curtain Profile", MID, 431, 19, bold=True)
note("Chainage (m)", MID, 814, LABEL_SIZE)
note("Elevation (m)", 44, 609, LABEL_SIZE, rot=-90)
note("Temperature (°C)", 1632, 404, LABEL_SIZE, rot=-90)

legend_common = dict(bgcolor="rgba(0,0,0,0)", borderwidth=0, font=dict(family=FONT, size=LABEL_SIZE, color=TXT),
                     xanchor="left", yanchor="top", orientation="v", tracegroupgap=2, itemwidth=36,
                     itemclick=False, itemdoubleclick=False)

fig.update_layout(
    width=W, height=H, autosize=False, margin=dict(l=0, r=0, t=0, b=0),
    paper_bgcolor="white", plot_bgcolor="white", annotations=annots, hovermode=False,
    font=dict(family=FONT, color=TXT),
    xaxis=dict(axis_common, domain=xdom(), range=LON_RANGE, anchor="y", tickvals=lon_ticks, tickformat="d",
               minor=dict(minor_common, tick0=197500, dtick=500)),
    yaxis=dict(axis_common, domain=ydom(TOP_T, TOP_B), range=LAT_RANGE, anchor="x", tickvals=lat_ticks, tickformat="d",
               minor=dict(minor_common, tick0=800500, dtick=100)),
    xaxis2=dict(axis_common, domain=xdom(), range=CH_RANGE, anchor="y2", tickvals=chain_ticks, tickformat="d",
                minor=dict(minor_common, tick0=0, dtick=500)),
    yaxis2=dict(axis_common, domain=ydom(BOT_T, BOT_B), range=EL_RANGE, anchor="x2", tickvals=elev_ticks, tickformat="d",
                minor=dict(minor_common, tick0=80, dtick=5)),
    xaxis3=dict(domain=[1557 / W, 1587 / W], range=[0, 1], anchor="y3", visible=False, fixedrange=True, automargin=False),
    yaxis3=dict(domain=ydom(108, 697), range=[CB_BOT, CB_TOP], anchor="x3", side="right", showgrid=False, zeroline=False,
                showline=False, ticks="outside", ticklen=6, tickwidth=1, tickcolor="#333", tickmode="array", automargin=False,
                tickvals=cbar_ticks, ticktext=cbar_labels, tickfont=dict(family=FONT, size=TICK_SIZE, color=TXT),
                minor=dict(ticks="outside", ticklen=3, tickwidth=0.9, tickcolor="#333", tickmode="array", tickvals=cbar_minor)),
    legend=dict(legend_common, x=1081 / W, y=1 - 33 / H),
    legend2=dict(legend_common, x=1303 / W, y=1 - 33 / H),
    legend3=dict(legend_common, x=1136 / W, y=1 - 684 / H),
)

fig.write_html("out.html", config={"displayModeBar": False},
               post_script="document.body.style.margin='0';document.body.style.overflow='hidden';")
